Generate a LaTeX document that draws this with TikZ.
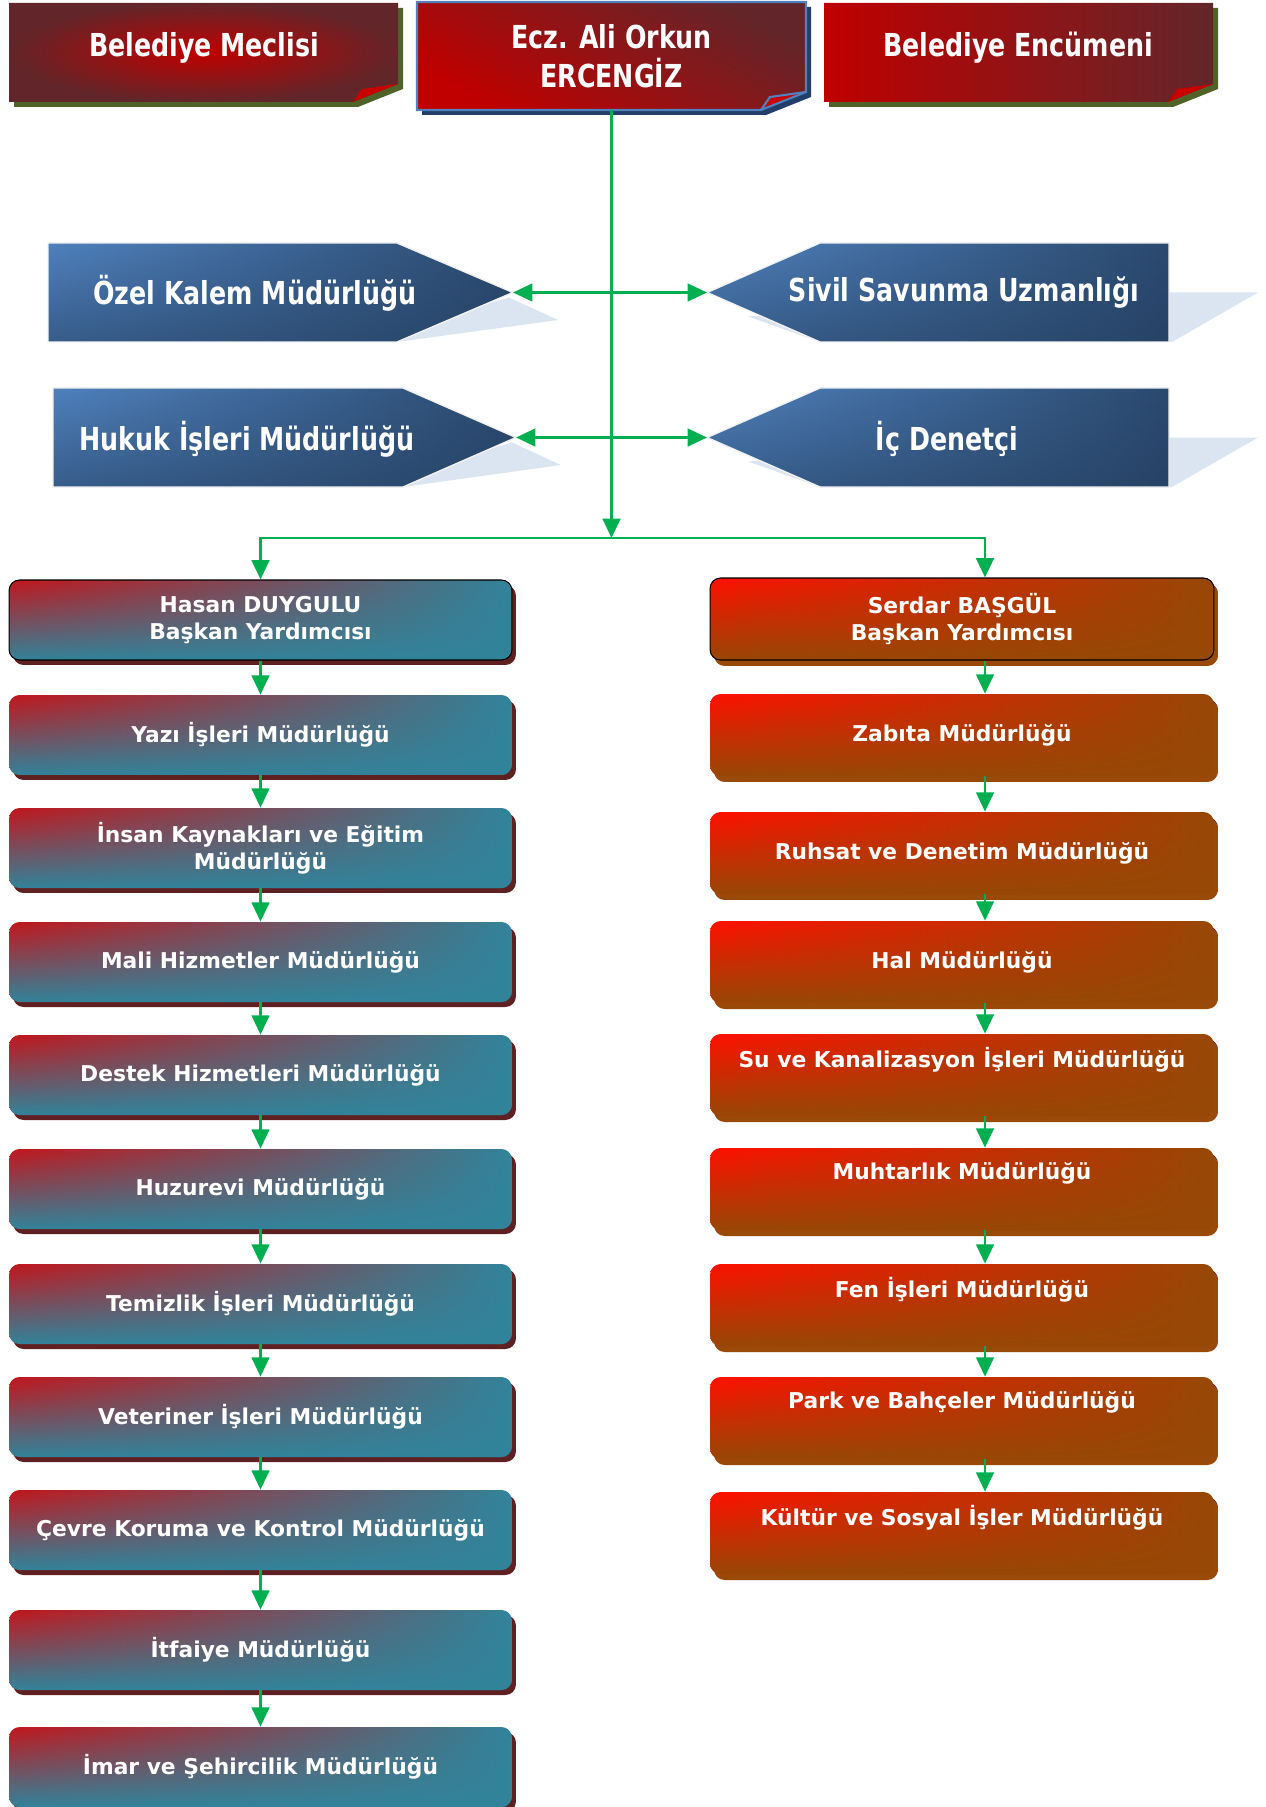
\documentclass[tikz,border=0pt]{standalone}
\usepackage{fontspec}
\usepackage{tikz}
\usetikzlibrary{arrows.meta,shadows,fadings}
\setmainfont{DejaVu Sans}
\newfontfamily\narrowfont{DejaVu Sans}[FakeStretch=0.8]

\definecolor{bred}{HTML}{C00000}
\definecolor{bmaroon}{HTML}{62262A}
\definecolor{curlred}{HTML}{C80000}
\definecolor{olive}{HTML}{4F6228}
\definecolor{navy}{HTML}{233E6A}
\definecolor{sblue}{HTML}{4F81BD}
\definecolor{dblue}{HTML}{243F60}
\definecolor{pale}{HTML}{DBE5F1}
\definecolor{lred}{HTML}{C3161C}
\definecolor{lteal}{HTML}{31849B}
\definecolor{lshadow}{HTML}{5E2021}
\definecolor{rred}{HTML}{FF1000}
\definecolor{rbrown}{HTML}{974806}
\definecolor{rshadow}{HTML}{9A4A08}
\definecolor{arrgreen}{HTML}{00B050}

\tikzstyle{arr}=[draw=arrgreen,line width=1.6pt,-{Triangle[length=11pt,width=10pt]}]
\tikzstyle{arrboth}=[arr,{Triangle[length=11pt,width=10pt]}-{Triangle[length=11pt,width=10pt]}]
\tikzstyle{meclisfill}=[inner color=bred,outer color=bmaroon]
\tikzstyle{alifill}=[top color=bmaroon,bottom color=bred,shading angle=-30]
\tikzstyle{encfill}=[left color=bred,right color=bmaroon]
\tikzstyle{toptext}=[text=white,inner sep=0pt,align=center,
  font=\narrowfont\bfseries\fontsize{18}{22}\selectfont]
\tikzstyle{pentfill}=[left color=sblue,right color=dblue!85!sblue,draw=white!90!gray,line width=0.8pt,
  path picture={\fill[dblue,path fading=north,fill opacity=0.55] (path picture bounding box.south west)
    rectangle (path picture bounding box.north east);}]
\tikzstyle{penttext}=[text=white,inner sep=0pt,font=\narrowfont\bfseries\fontsize{18}{22}\selectfont]
\tikzstyle{leftbox}=[rounded corners=6pt,minimum width=10.06cm,minimum height=1.6cm,
  inner sep=0pt,text=white,align=center,font=\bfseries\fontsize{12.4}{15.5}\selectfont,
  left color=lred,right color=lteal,
  path picture={\fill[lteal,path fading=north] (path picture bounding box.south west)
    rectangle (path picture bounding box.north east);},
  drop shadow={shadow xshift=0.08cm,shadow yshift=-0.1cm,fill=lshadow,opacity=1}]
\tikzstyle{rightbox}=[leftbox,minimum width=10.08cm,minimum height=1.64cm,
  left color=rred,right color=rbrown,
  path picture={\fill[rbrown,path fading=north] (path picture bounding box.south west)
    rectangle (path picture bounding box.north east);},
  drop shadow={shadow xshift=0.08cm,shadow yshift=-0.12cm,fill=rshadow,opacity=1}]

\begin{document}
\begin{tikzpicture}[x=0.02cm,y=-0.02cm]
  \useasboundingbox (0,0) rectangle (1266,1807);

  % top row: pages with a turned corner
  \foreach \xa/\xb/\ya/\yb/\f/\sh in {9/398/3/102/meclisfill/olive,
      417/806/2/110/alifill/navy, 824/1213/3/102/encfill/olive} {
    \fill[\sh] (\xa+5,\ya+5) -- (\xb+5,\ya+5) -- (\xb+5,\yb-13) -- (\xb-40,\yb+5)
      -- (\xa+5,\yb+5) -- cycle;
    \shade[\f] (\xa,\ya) -- (\xb,\ya) -- (\xb,\yb-18) -- (\xb-45,\yb) -- (\xa,\yb) -- cycle;
    \fill[curlred] (\xb,\yb-18) -- (\xb-45,\yb) -- (\xb-36,\yb-13) -- cycle;
  }
  \draw[sblue,line width=1.2pt] (417,2) -- (806,2) -- (806,92) -- (761,110) -- (417,110) -- cycle;
  \draw[sblue,line width=1.2pt] (806,92) -- (770,97) -- (761,110);

  \node[toptext] (meclis) at (204,48) {Belediye Meclisi};
  \node[toptext,minimum height=2.16cm] (ali) at (611.5,56) {Ecz. Ali Orkun\\ERCENGİZ};
  \node[toptext] (encumen) at (1018,48) {Belediye Encümeni};

  % staff units
  \foreach \xa/\xr/\xt/\ya/\yb in {48/397/513/243/342, 53/403/516/388/487} {
    \pgfmathsetmacro\ym{(\ya+\yb)/2}
    \fill[pale] (\xr-30,\yb-4) -- (\xr,\yb) -- (\xt+45,\yb-22) -- (\xt-4,\ym+5) -- cycle;
    \path[pentfill] (\xa,\ya) -- (\xr,\ya) -- (\xt,\ym) -- (\xr,\yb) -- (\xa,\yb) -- cycle;
  }
  \foreach \xt/\xl/\xb/\ya/\yb in {707/820/1169/243/342, 707/820/1169/388/487} {
    \pgfmathsetmacro\ym{(\ya+\yb)/2}
    \fill[pale] (\xt+41,\ym+24) -- (\xl,\yb) -- (\xb+3,\yb) -- (\xb+89,\ym) -- (\xb-20,\ym) -- cycle;
    \path[pentfill] (\xb,\ya) -- (\xl,\ya) -- (\xt,\ym) -- (\xl,\yb) -- (\xb,\yb) -- cycle;
  }
  \coordinate (ozeltip) at (513,292.5);
  \coordinate (siviltip) at (707,292.5);
  \coordinate (hukuktip) at (516,437.5);
  \coordinate (ictip) at (707,437.5);

  \node[penttext] (ozel) at (255,293) {Özel Kalem Müdürlüğü};
  \node[penttext] (sivil) at (964,293) {Sivil Savunma Uzmanlığı};
  \node[penttext] (hukuk) at (247,439) {Hukuk İşleri Müdürlüğü};
  \node[penttext] (icdenetci) at (947,439) {İç Denetçi};

  % left column
  \node[leftbox,draw=black,line width=0.6pt] (hasan) at (260.5,620) {Hasan DUYGULU\\Başkan Yardımcısı};
  \foreach \n/\y/\t in {yazi/735/{Yazı İşleri Müdürlüğü},
      insan/848/{İnsan Kaynakları ve Eğitim\\Müdürlüğü},
      mali/962/{Mali Hizmetler Müdürlüğü},
      destek/1075/{Destek Hizmetleri Müdürlüğü},
      huzurevi/1189/{Huzurevi Müdürlüğü},
      temizlik/1304/{Temizlik İşleri Müdürlüğü},
      veteriner/1417/{Veteriner İşleri Müdürlüğü},
      cevre/1530/{Çevre Koruma ve Kontrol Müdürlüğü},
      itfaiye/1650/{İtfaiye Müdürlüğü},
      imar/1767/{İmar ve Şehircilik Müdürlüğü}}
    \node[leftbox] (\n) at (260.5,\y) {\t};

  % right column
  \node[rightbox,draw=black,line width=0.6pt] (serdar) at (962,619) {Serdar BAŞGÜL\\Başkan Yardımcısı};
  \foreach \n/\y/\t in {zabita/735/{Zabıta Müdürlüğü},
      ruhsat/853/{Ruhsat ve Denetim Müdürlüğü},
      hal/962/{Hal Müdürlüğü},
      su/1075/{Su ve Kanalizasyon İşleri Müdürlüğü\\\strut},
      muhtarlik/1189/{Muhtarlık Müdürlüğü\\\strut},
      fen/1305/{Fen İşleri Müdürlüğü\\\strut},
      park/1418/{Park ve Bahçeler Müdürlüğü\\\strut},
      kultur/1533/{Kültür ve Sosyal İşler Müdürlüğü\\\strut}}
    \node[rightbox] (\n) at (962,\y) {\t};

  % connectors
  \coordinate (bus) at (ali.south |- 0,538);
  \coordinate (rx) at (985,0);
  \draw[arr] (ali.south) -- (bus);
  \draw[arrboth] (ozeltip) -- (siviltip);
  \draw[arrboth] (hukuktip) -- (ictip);
  \draw[arr] (bus) -| (hasan.north);
  \draw[arr] (bus) -| (serdar.north -| rx);

  \foreach \a/\b in {hasan/yazi, yazi/insan, insan/mali, mali/destek, destek/huzurevi,
      huzurevi/temizlik, temizlik/veteriner, veteriner/cevre, cevre/itfaiye, itfaiye/imar}
    \draw[arr] (\a.south) -- (\b.north);
  \foreach \a/\b in {serdar/zabita, zabita/ruhsat, ruhsat/hal, hal/su, su/muhtarlik,
      muhtarlik/fen, fen/park, park/kultur}
    \draw[arr] (\a.south -| rx) -- (\b.north -| rx);
\end{tikzpicture}
\end{document}
